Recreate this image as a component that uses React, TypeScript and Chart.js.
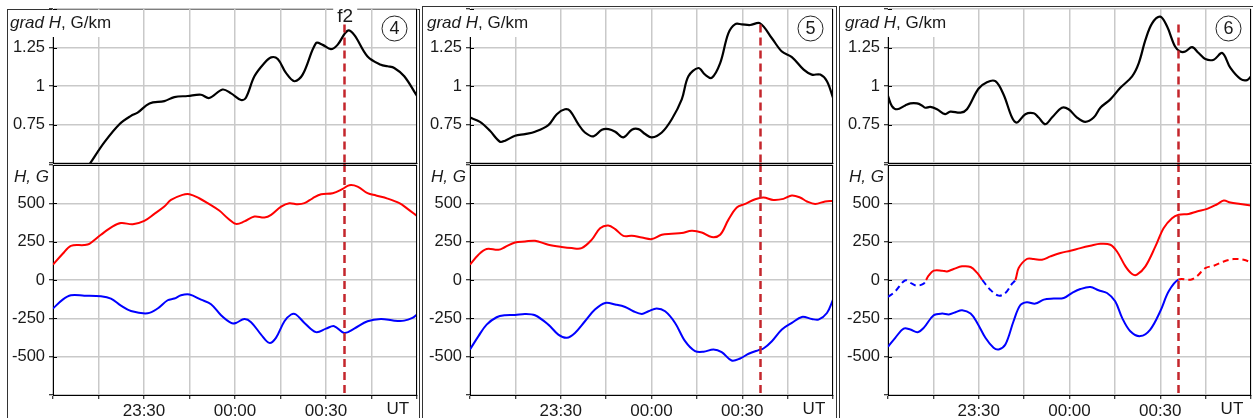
import React, { useEffect, useRef } from 'react';
import { Chart, registerables } from 'chart.js';

Chart.register(...registerables);

const FONT = '"Liberation Sans", Arial, Helvetica, sans-serif';

type Pt = [number, number];

// x = minutes after 23:00 UT
const X_MIN = 0;
const X_MAX = 120;
const X_STEP = 15;
const X_TICK_VALUES = [30, 60, 90];
const X_TICK_LABELS = ['23:30', '00:00', '00:30'];
const X_UNIT_LABEL = 'UT';
const X_UNIT_POS = 113.7;
const MARKER_T = 96; // 00:36
const MARKER_TOP = 1.4;
const MARKER_LABEL = 'f2';

const GRAD_MIN = 0.5;
const GRAD_MAX = 1.5;
const GRAD_STEP = 0.25;
const GRAD_LABELED = [0.75, 1, 1.25];
const H_MIN = -750;
const H_MAX = 750;
const H_STEP = 250;
const H_LABELED = [-500, -250, 0, 250, 500];

const PANEL_NUMBERS = ['4', '5', '6'];

// ---- panel 4 ----
const P4_GRAD: Pt[] = [[10, 0.43], [12.5, 0.505], [16.9, 0.634], [21.9, 0.752], [25.7, 0.806], [27.9, 0.827], [31.8, 0.887], [36.7, 0.902], [40, 0.928], [44.4, 0.935], [48.8, 0.943], [51.5, 0.922], [55.9, 0.977], [58.7, 0.952], [62, 0.909], [63.6, 0.924], [66.4, 1.063], [69.7, 1.149], [71.9, 1.186], [74.1, 1.175], [76.8, 1.085], [79.6, 1.031], [82.3, 1.074], [86.7, 1.278], [88.9, 1.267], [91.6, 1.239], [93.8, 1.267], [97.1, 1.359], [99.3, 1.332], [103.7, 1.192], [108.1, 1.138], [110.3, 1.128], [112.5, 1.117], [115.8, 1.063], [120, 0.935]];
const P4_H_RED: Pt[] = [[0, 100], [3.2, 171], [5.9, 223], [10.3, 228], [12, 236], [15.8, 295], [19.7, 349], [22.4, 371], [26.3, 364], [30.1, 386], [33.4, 431], [36.7, 479], [38.9, 522], [42.7, 555], [45, 559], [48.2, 533], [51, 501], [54.8, 453], [57.6, 403], [60.3, 366], [63.1, 382], [66.4, 414], [69.7, 408], [71.9, 425], [75.2, 479], [77.9, 501], [80.7, 494], [82.9, 501], [85.6, 533], [88.4, 559], [92.2, 566], [95.5, 594], [97.7, 618], [100.4, 609], [103.7, 566], [106.5, 551], [110.3, 531], [114.2, 501], [116.9, 464], [120, 418]];
const P4_H_BLUE: Pt[] = [[0, -186], [3.2, -128], [5.9, -100], [10.3, -102], [15.8, -106], [19.1, -121], [22.4, -167], [25.7, -202], [31.2, -217], [34.5, -186], [37.8, -132], [40, -121], [42.2, -100], [45, -95], [48.8, -128], [52.1, -158], [55.4, -230], [58.7, -280], [60.3, -280], [63.1, -254], [65.3, -275], [68.6, -356], [71.3, -410], [73.5, -377], [76.3, -269], [78.5, -225], [80.1, -225], [82.9, -280], [86.7, -340], [90, -317], [92.7, -301], [96, -345], [99.3, -317], [103.7, -269], [108.1, -254], [112.5, -265], [115.8, -265], [118.5, -247], [120, -225]];

// ---- panel 5 ----
const P5_GRAD: Pt[] = [[0, 0.795], [3.3, 0.767], [6.6, 0.709], [9.9, 0.638], [11.6, 0.645], [14.9, 0.677], [18.2, 0.688], [21.5, 0.703], [25.9, 0.746], [28.7, 0.817], [31.4, 0.849], [33.1, 0.838], [35.8, 0.752], [38, 0.698], [40.8, 0.673], [43.6, 0.716], [45.8, 0.72], [48, 0.703], [50.7, 0.666], [53.5, 0.716], [55.7, 0.72], [57.9, 0.688], [60.1, 0.666], [63.4, 0.698], [66.7, 0.784], [70, 0.913], [72.2, 1.063], [75.5, 1.117], [77.7, 1.074], [79.9, 1.053], [82.7, 1.149], [85.4, 1.342], [87.7, 1.402], [89.9, 1.4], [92.6, 1.396], [95.9, 1.407], [99.8, 1.31], [103.1, 1.224], [106.4, 1.188], [110.3, 1.106], [113, 1.074], [115.8, 1.074], [118, 1.031], [120, 0.924]];
const P5_H_RED: Pt[] = [[0, 100], [2.8, 165], [5.5, 202], [9.4, 197], [11.6, 215], [14.9, 245], [18.2, 251], [21.5, 256], [25.9, 230], [30.3, 215], [33.6, 208], [36.9, 208], [40.2, 262], [43, 338], [45.7, 356], [48, 332], [50.7, 288], [53.5, 288], [56.8, 277], [60.1, 267], [63.4, 295], [66.7, 301], [70, 306], [73.3, 321], [76.6, 310], [79.9, 280], [82.7, 295], [85.4, 392], [88.2, 473], [91, 496], [94.3, 527], [97, 538], [100.3, 522], [103.6, 529], [106.4, 551], [109.1, 538], [111.4, 512], [114.1, 496], [117.4, 512], [120, 516]];
const P5_H_BLUE: Pt[] = [[0, -453], [2.8, -366], [5.5, -291], [8.8, -243], [11.6, -230], [14.9, -228], [18.2, -221], [21.5, -230], [25.9, -291], [29.2, -356], [32, -377], [34.7, -345], [38, -269], [41.3, -193], [44.7, -150], [48, -160], [51.3, -176], [54, -204], [56.8, -221], [59, -204], [61.7, -186], [64.5, -204], [67.8, -280], [71.1, -399], [74.4, -464], [77.2, -468], [80.5, -453], [83.2, -470], [86.5, -525], [89.3, -512], [92.1, -481], [95.4, -457], [97, -447], [99.8, -399], [103.1, -323], [106.4, -280], [109.7, -241], [113, -254], [115.2, -258], [118, -215], [120, -128]];

// ---- panel 6 ----
const P6_GRAD: Pt[] = [[0, 0.935], [1.3, 0.87], [3, 0.849], [5.7, 0.874], [7.4, 0.887], [9.6, 0.887], [11.2, 0.874], [12.3, 0.859], [14, 0.864], [16.2, 0.849], [18.9, 0.817], [20.6, 0.834], [24, 0.827], [26.1, 0.849], [29.9, 0.982], [32.7, 1.025], [35.5, 1.031], [38.2, 0.945], [41, 0.795], [42.6, 0.763], [45.4, 0.817], [48.2, 0.823], [49.8, 0.795], [52, 0.752], [54.2, 0.795], [57.5, 0.859], [59.7, 0.849], [62.5, 0.795], [65.2, 0.767], [68, 0.795], [70.2, 0.859], [73.5, 0.913], [76.8, 0.988], [80.7, 1.063], [82.9, 1.149], [85.1, 1.299], [87.3, 1.407], [90, 1.45], [92.2, 1.389], [94.9, 1.256], [96.6, 1.224], [98.3, 1.224], [100.5, 1.252], [102.7, 1.214], [104.9, 1.175], [107.7, 1.171], [110.5, 1.214], [113.2, 1.117], [116.5, 1.046], [118.7, 1.038], [120, 1.063]];
const P6_H_RED: Pt[] = [[0, -111], [2.4, -74], [5.7, -2], [7.9, -24], [9.6, -37], [11.8, -24], [12.6, 0], [13.4, 28], [15.1, 61], [17.9, 61], [19.5, 56], [21.7, 72], [24.5, 89], [27.3, 85], [29.5, 46], [31.2, 0], [33.8, -63], [36.6, -102], [38.8, -85], [41, -24], [42.1, 0], [43.2, 78], [45.9, 137], [48.2, 137], [50.9, 132], [53.7, 154], [57, 176], [60.3, 191], [63.6, 208], [66.9, 223], [70.2, 236], [73.5, 230], [75.7, 186], [78.5, 89], [80.7, 39], [82.3, 35], [85.1, 89], [88.4, 219], [91.1, 338], [93.9, 403], [96.1, 425], [99.4, 431], [102.1, 447], [105.5, 464], [108.8, 494], [111, 518], [113.2, 505], [116.5, 496], [120, 486]];
const P6_H_BLUE: Pt[] = [[0, -436], [2.4, -377], [5.2, -317], [7.4, -323], [9.8, -340], [11.8, -312], [15.1, -230], [17.9, -219], [20.1, -225], [22.3, -210], [24.5, -197], [27.3, -219], [29.5, -280], [32.2, -377], [34.9, -442], [36.6, -453], [38.8, -421], [41.5, -269], [43.7, -165], [45.9, -145], [48.7, -154], [51.5, -128], [54.8, -121], [58.1, -117], [60.8, -85], [63.6, -59], [66.9, -46], [69.6, -67], [72.4, -85], [75.1, -139], [77.4, -247], [80.1, -334], [83.4, -366], [86.7, -323], [90, -204], [92.8, -74], [96, 2], [100, 2], [102.1, 24], [104.9, 78], [107.7, 93], [111, 121], [114.3, 137], [117.6, 132], [120, 115]];

const PANEL_DATA = [
  { grad: P4_GRAD, red: P4_H_RED, blue: P4_H_BLUE, split: false, markerLabel: true },
  { grad: P5_GRAD, red: P5_H_RED, blue: P5_H_BLUE, split: false, markerLabel: false },
  { grad: P6_GRAD, red: P6_H_RED, blue: P6_H_BLUE, split: true, markerLabel: false },
];

// ---- layout (pixels) ----
const LAYOUT = [
  { frameL: 7, frameR: 419, frameT: 9, plotL: 53, plotR: 417 },
  { frameL: 422, frameR: 836, frameT: 6, plotL: 470, plotR: 833 },
  { frameL: 839, frameR: 1260, frameT: 6, plotL: 888, plotR: 1251 },
];
const TOP_T = 9;
const TOP_B = 163;
const BOT_T = 165;
const BOT_B = 395;
const PAD = 22;
const PAD_R = 6;
const XAX_H = 26;

const RED = 'rgb(255,0,0)';
const BLUE = 'rgb(0,0,255)';
const MARKER_COLOR = '#c4262c';
const GRID = '#c9c9c9';
const TEXT = '#1a1a1a';
const TENSION = 0.35;

const toXY = (pts: Pt[]) => pts.map(([x, y]) => ({ x, y }));
const near = (a: number, b: number) => Math.abs(a - b) < 1e-6;

function Sub({ idx, kind }: { idx: number; kind: 'top' | 'bot' }) {
  const ref = useRef<HTMLCanvasElement>(null);
  const L = LAYOUT[idx];
  const P = PANEL_DATA[idx];
  const isTop = kind === 'top';
  const T = isTop ? TOP_T : BOT_T;
  const B = isTop ? TOP_B : BOT_B;
  const canvasLeft = L.frameL + 1;
  const AX = L.plotL - canvasLeft;
  const width = AX + (L.plotR - L.plotL) + PAD_R;
  const height = PAD + (B - T) + (isTop ? PAD : XAX_H);
  const top = T - PAD;

  useEffect(() => {
    const canvas = ref.current;
    if (!canvas) return;

    const datasets: any[] = [];
    if (isTop) {
      datasets.push({
        data: toXY(P.grad),
        borderColor: '#000',
        borderWidth: 2.2,
        pointRadius: 0,
        tension: TENSION,
      });
    } else {
      datasets.push({
        data: toXY(P.red),
        borderColor: RED,
        borderWidth: 2,
        pointRadius: 0,
        tension: TENSION,
        segment: P.split
          ? {
              borderColor: (c: any) => ((c.p0.parsed.y + c.p1.parsed.y) / 2 < 0 ? BLUE : undefined),
              borderDash: (c: any) => ((c.p0.parsed.y + c.p1.parsed.y) / 2 < 0 ? [6, 4] : undefined),
            }
          : undefined,
      });
      datasets.push({
        data: toXY(P.blue),
        borderColor: BLUE,
        borderWidth: 2,
        pointRadius: 0,
        tension: TENSION,
        segment: P.split
          ? {
              borderColor: (c: any) => (c.p0.parsed.x >= MARKER_T - 0.1 ? RED : undefined),
              borderDash: (c: any) => (c.p0.parsed.x >= MARKER_T - 0.1 ? [6, 4] : undefined),
            }
          : undefined,
      });
    }

    const deco = {
      id: 'deco',
      afterDatasetsDraw(chart: any) {
        const { ctx, chartArea: a, scales } = chart;
        const mx = Math.round(scales.x.getPixelForValue(MARKER_T)) + 0.5;
        ctx.save();
        ctx.strokeStyle = MARKER_COLOR;
        ctx.lineWidth = 2.5;
        ctx.setLineDash([8, 5]);
        ctx.beginPath();
        if (isTop) {
          ctx.moveTo(mx, scales.y.getPixelForValue(MARKER_TOP));
          ctx.lineTo(mx, a.bottom + 1);
        } else {
          ctx.moveTo(mx, a.top - 1);
          ctx.lineTo(mx, a.bottom);
        }
        ctx.stroke();
        ctx.restore();
      },
      afterDraw(chart: any) {
        const { ctx, chartArea: a, scales } = chart;
        const ys = scales.y;
        const xs = scales.x;
        ctx.save();
        ctx.setLineDash([]);
        ctx.strokeStyle = '#000';
        ctx.lineWidth = 1;
        ctx.beginPath();
        ctx.moveTo(a.right - 0.5, a.top);
        ctx.lineTo(a.right - 0.5, a.bottom);
        if (!isTop) {
          ctx.moveTo(a.left, a.top + 0.5);
          ctx.lineTo(a.right, a.top + 0.5);
        }
        ys.ticks.forEach((t: any) => {
          const y = Math.round(ys.getPixelForValue(t.value)) + 0.5;
          ctx.moveTo(a.left, y);
          ctx.lineTo(a.left + 4, y);
        });
        ctx.stroke();

        ctx.textAlign = 'left';
        ctx.textBaseline = 'alphabetic';
        if (isTop) {
          const x0 = a.left - 43;
          const base = a.top + 19;
          ctx.font = `italic 17px ${FONT}`;
          const w1 = ctx.measureText('grad H').width;
          ctx.font = `17px ${FONT}`;
          const w2 = ctx.measureText(', G/km').width;
          ctx.fillStyle = '#fff';
          ctx.fillRect(1, a.top + 1, x0 + w1 + w2 + 2, 27);
          ctx.fillStyle = TEXT;
          ctx.font = `italic 17px ${FONT}`;
          ctx.fillText('grad H', x0, base);
          ctx.font = `17px ${FONT}`;
          ctx.fillText(', G/km', x0 + w1, base);

          const cx = a.right - 22.5;
          const cy = a.top + 19.5;
          ctx.beginPath();
          ctx.arc(cx, cy, 12.5, 0, Math.PI * 2);
          ctx.fillStyle = '#fff';
          ctx.fill();
          ctx.lineWidth = 1;
          ctx.strokeStyle = '#222';
          ctx.stroke();
          ctx.fillStyle = TEXT;
          ctx.font = `18px ${FONT}`;
          ctx.textAlign = 'center';
          ctx.textBaseline = 'middle';
          ctx.fillText(PANEL_NUMBERS[idx], cx, cy + 1);

          if (P.markerLabel) {
            const fx = xs.getPixelForValue(MARKER_T) + 1;
            ctx.fillStyle = '#fff';
            ctx.fillRect(fx - 12, a.top - 9, 24, 24);
            ctx.fillStyle = TEXT;
            ctx.font = `19px ${FONT}`;
            ctx.textAlign = 'center';
            ctx.textBaseline = 'alphabetic';
            ctx.fillText(MARKER_LABEL, fx, a.top + 13);
          }
        } else {
          ctx.fillStyle = TEXT;
          ctx.font = `italic 17px ${FONT}`;
          ctx.fillText('H, G', a.left - 39, a.top + 17);
          ctx.font = `17px ${FONT}`;
          ctx.textAlign = 'center';
          ctx.textBaseline = 'top';
          ctx.fillText(X_UNIT_LABEL, xs.getPixelForValue(X_UNIT_POS), a.bottom + 6);
        }
        ctx.restore();
      },
    };

    const chart = new Chart(canvas, {
      type: 'line',
      data: { datasets },
      options: {
        responsive: false,
        animation: false,
        events: [],
        layout: { padding: { top: PAD, right: PAD_R, bottom: isTop ? PAD : 0, left: 0 } },
        plugins: { legend: { display: false }, tooltip: { enabled: false } },
        scales: {
          x: {
            type: 'linear',
            min: X_MIN,
            max: X_MAX,
            position: 'bottom',
            ticks: {
              display: !isTop,
              stepSize: X_STEP,
              autoSkip: false,
              maxRotation: 0,
              padding: 2,
              color: TEXT,
              font: { family: FONT, size: 17 },
              callback: (v: any) => {
                const i = X_TICK_VALUES.findIndex((t) => near(t, Number(v)));
                return i >= 0 ? X_TICK_LABELS[i] : '';
              },
            },
            grid: { color: GRID, lineWidth: 1.5, drawTicks: !isTop, tickLength: 4, tickColor: '#000', tickWidth: 1 },
            border: { display: true, color: '#000', width: 1 },
            afterFit: (s: any) => {
              s.height = isTop ? 0 : XAX_H;
            },
          },
          y: {
            type: 'linear',
            min: isTop ? GRAD_MIN : H_MIN,
            max: isTop ? GRAD_MAX : H_MAX,
            position: 'left',
            ticks: {
              stepSize: isTop ? GRAD_STEP : H_STEP,
              autoSkip: false,
              padding: 4,
              color: TEXT,
              font: { family: FONT, size: 16.5 },
              callback: (v: any) => {
                const n = Number(v);
                const list = isTop ? GRAD_LABELED : H_LABELED;
                const hit = list.find((t) => near(t, n));
                return hit === undefined ? '' : String(hit);
              },
            },
            grid: { color: GRID, lineWidth: 1.5, tickLength: 4, tickColor: '#000', tickWidth: 1 },
            border: { display: true, color: '#000', width: 1 },
            afterFit: (s: any) => {
              s.width = AX;
            },
          },
        },
      },
      plugins: [deco],
    } as any);
    return () => chart.destroy();
  }, []);

  return (
    <canvas
      ref={ref}
      width={width}
      height={height}
      style={{ position: 'absolute', left: canvasLeft, top, width, height, display: 'block' }}
    />
  );
}

export default function App() {
  return (
    <div
      style={{
        position: 'absolute',
        left: 0,
        top: 0,
        width: 1253,
        height: 418,
        overflow: 'hidden',
        background: '#fff',
      }}
    >
      {LAYOUT.map((l, i) => (
        <div
          key={'f' + i}
          style={{
            position: 'absolute',
            left: l.frameL,
            top: l.frameT,
            width: l.frameR - l.frameL + 1,
            height: 500,
            border: '1px solid #333',
            boxSizing: 'border-box',
          }}
        />
      ))}
      {LAYOUT.map((_, i) => (
        <React.Fragment key={'p' + i}>
          <Sub idx={i} kind="top" />
          <Sub idx={i} kind="bot" />
        </React.Fragment>
      ))}
    </div>
  );
}
